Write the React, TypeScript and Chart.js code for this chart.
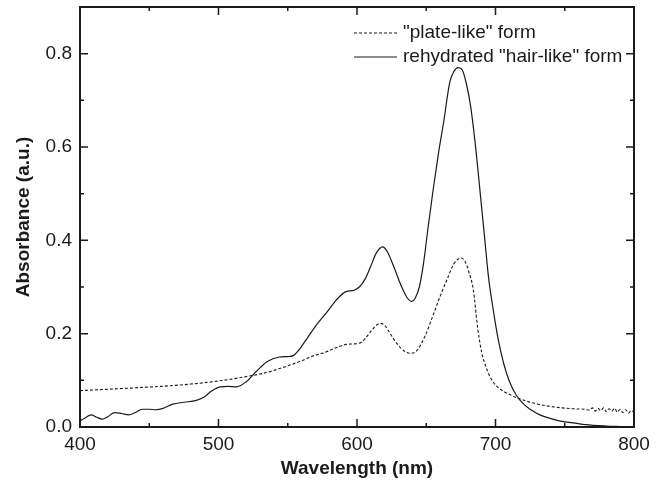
import React, { useEffect, useRef } from "react";
import { Chart, registerables } from "chart.js";

Chart.register(...registerables);

// Rehydrated "hair-like" form (solid)
const hairWavelength = [400, 404, 408, 412, 416, 420, 425, 430, 435, 440, 445, 450, 455, 460, 467, 475, 484, 490, 495, 501, 507, 513, 520, 527, 535, 544, 550, 554, 558, 564, 571, 578, 585, 592, 598, 602, 606, 610, 614, 618.5, 622, 627, 632, 636, 639.5, 642, 645, 648, 651, 655, 659, 662.5, 667, 670, 673, 676, 679, 682, 686, 689, 692, 695, 698, 702, 706, 710, 715, 720, 725, 732, 740, 748, 756, 765, 780, 790, 800];
const hairAbs = [0.013, 0.02, 0.026, 0.021, 0.017, 0.022, 0.031, 0.029, 0.026, 0.031, 0.038, 0.038, 0.037, 0.04, 0.049, 0.053, 0.057, 0.065, 0.077, 0.086, 0.087, 0.086, 0.097, 0.118, 0.14, 0.15, 0.151, 0.153, 0.165, 0.19, 0.22, 0.245, 0.272, 0.29, 0.293, 0.301, 0.318, 0.345, 0.373, 0.386, 0.375, 0.34, 0.302, 0.278, 0.269, 0.276, 0.3, 0.35, 0.42, 0.509, 0.59, 0.652, 0.739, 0.762, 0.77, 0.765, 0.735, 0.688, 0.59, 0.5, 0.41, 0.32, 0.258, 0.187, 0.135, 0.098, 0.068, 0.05, 0.038, 0.026, 0.018, 0.012, 0.009, 0.005, 0.002, 0.001, 0.0];

// "plate-like" form (dashed)
const plateWavelength = [400, 420, 440, 458, 480, 501, 520, 535, 549, 560, 568, 575, 585, 592, 597, 602, 606, 610, 614, 617, 620, 624, 629, 634, 639, 643, 649, 655, 660, 665, 670, 675, 678, 681, 684, 687, 690, 693, 696, 700, 705, 710, 715, 720, 725, 732, 740, 748, 756, 764, 768, 770, 772, 774, 776, 778, 780, 782, 784, 786, 788, 790, 792, 794, 796, 798, 800];
const plateAbs = [0.078, 0.081, 0.084, 0.087, 0.092, 0.099, 0.108, 0.117, 0.13, 0.142, 0.152, 0.158, 0.17, 0.177, 0.178, 0.18, 0.19, 0.205, 0.218, 0.222, 0.218, 0.2, 0.178, 0.163, 0.158, 0.163, 0.194, 0.24, 0.28, 0.316, 0.35, 0.362, 0.355, 0.33, 0.294, 0.215, 0.16, 0.13, 0.108, 0.09, 0.078, 0.07, 0.063, 0.058, 0.053, 0.048, 0.044, 0.041, 0.039, 0.038, 0.036, 0.041, 0.034, 0.04, 0.035, 0.041, 0.033, 0.039, 0.034, 0.04, 0.032, 0.038, 0.031, 0.037, 0.03, 0.035, 0.032];

const seriesLabels = ['"plate-like" form', 'rehydrated "hair-like" form'];
const xTickValues = [400, 500, 600, 700, 800];
const yTickValues = [0.0, 0.2, 0.4, 0.6, 0.8];

const FONT = "'Liberation Sans', Arial, Helvetica, sans-serif";
const INK = "#1a1a1a";

const framePlugin = {
  id: "frameTicks",
  afterDraw(chart: any) {
    const { ctx, chartArea } = chart;
    const xs = chart.scales.x;
    const ys = chart.scales.y;
    const { left, right, top, bottom } = chartArea;
    ctx.save();
    ctx.strokeStyle = INK;
    ctx.lineWidth = 1.5;
    for (let v = 450; v < 800; v += 50) {
      const px = xs.getPixelForValue(v);
      const len = v % 100 === 0 ? 8 : 4;
      ctx.beginPath();
      ctx.moveTo(px, bottom);
      ctx.lineTo(px, bottom - len);
      ctx.moveTo(px, top);
      ctx.lineTo(px, top + len);
      ctx.stroke();
    }
    for (let i = 1; i < 9; i++) {
      const v = i / 10;
      const py = ys.getPixelForValue(v);
      const len = i % 2 === 0 ? 8 : 4;
      ctx.beginPath();
      ctx.moveTo(left, py);
      ctx.lineTo(left + len, py);
      ctx.moveTo(right, py);
      ctx.lineTo(right - len, py);
      ctx.stroke();
    }
    ctx.lineWidth = 2;
    ctx.strokeRect(left, top, right - left, bottom - top);

    // legend
    const lx0 = left + 274;
    const lx1 = lx0 + 43;
    const rows = [top + 26, top + 50];
    ctx.font = `19px ${FONT}`;
    ctx.fillStyle = INK;
    ctx.textBaseline = "middle";
    ctx.textAlign = "left";
    rows.forEach((ry, i) => {
      ctx.lineWidth = 1.1;
      ctx.setLineDash(i === 0 ? [3, 2] : []);
      ctx.beginPath();
      ctx.moveTo(lx0, ry);
      ctx.lineTo(lx1, ry);
      ctx.stroke();
      ctx.setLineDash([]);
      ctx.fillText(seriesLabels[i], lx1 + 6, ry);
    });
    ctx.restore();
  },
};

export default function App() {
  const ref = useRef<HTMLCanvasElement | null>(null);
  useEffect(() => {
    if (!ref.current) return;
    const plate = plateWavelength.map((x, i) => ({ x, y: plateAbs[i] }));
    const hair = hairWavelength.map((x, i) => ({ x, y: hairAbs[i] }));
    const chart = new Chart(ref.current, {
      type: "line",
      data: {
        datasets: [
          {
            label: seriesLabels[0],
            data: plate,
            borderColor: INK,
            borderWidth: 1.1,
            borderDash: [3, 2],
            pointRadius: 0,
            cubicInterpolationMode: "monotone",
            fill: false,
          },
          {
            label: seriesLabels[1],
            data: hair,
            borderColor: INK,
            borderWidth: 1.2,
            pointRadius: 0,
            cubicInterpolationMode: "monotone",
            fill: false,
          },
        ],
      },
      options: {
        animation: false,
        responsive: true,
        maintainAspectRatio: false,
        layout: { padding: { top: 7, right: 31, left: 0, bottom: 0 } },
        plugins: { legend: { display: false }, tooltip: { enabled: false } },
        scales: {
          x: {
            type: "linear",
            min: 400,
            max: 800,
            afterFit: (s: any) => { s.height = 55; s.paddingLeft = 0; s.paddingRight = 0; },
            afterBuildTicks: (s: any) => { s.ticks = xTickValues.map((v) => ({ value: v })); },
            grid: { display: false, drawTicks: false },
            border: { display: false },
            ticks: {
              color: INK,
              font: { family: FONT, size: 19 },
              padding: 6,
              maxRotation: 0,
              callback: (v: any) => String(v),
            },
            title: {
              display: true,
              text: "Wavelength (nm)",
              color: INK,
              font: { family: FONT, size: 19, weight: "bold" },
              padding: { top: 0, bottom: 2 },
            },
          },
          y: {
            type: "linear",
            min: 0,
            max: 0.9,
            afterFit: (s: any) => { s.width = 80; s.paddingTop = 0; s.paddingBottom = 0; },
            afterBuildTicks: (s: any) => { s.ticks = yTickValues.map((v) => ({ value: v })); },
            grid: { display: false, drawTicks: false },
            border: { display: false },
            ticks: {
              color: INK,
              font: { family: FONT, size: 19 },
              padding: 8,
              callback: (v: any) => Number(v).toFixed(1),
            },
            title: {
              display: true,
              text: "Absorbance (a.u.)",
              color: INK,
              font: { family: FONT, size: 19, weight: "bold" },
              padding: { top: 12, bottom: 0 },
            },
          },
        },
      },
      plugins: [framePlugin],
    } as any);
    return () => chart.destroy();
  }, []);
  return (
    <div style={{ position: "absolute", left: 0, top: 0, width: 665, height: 482, background: "#fff" }}>
      <canvas ref={ref} />
    </div>
  );
}
